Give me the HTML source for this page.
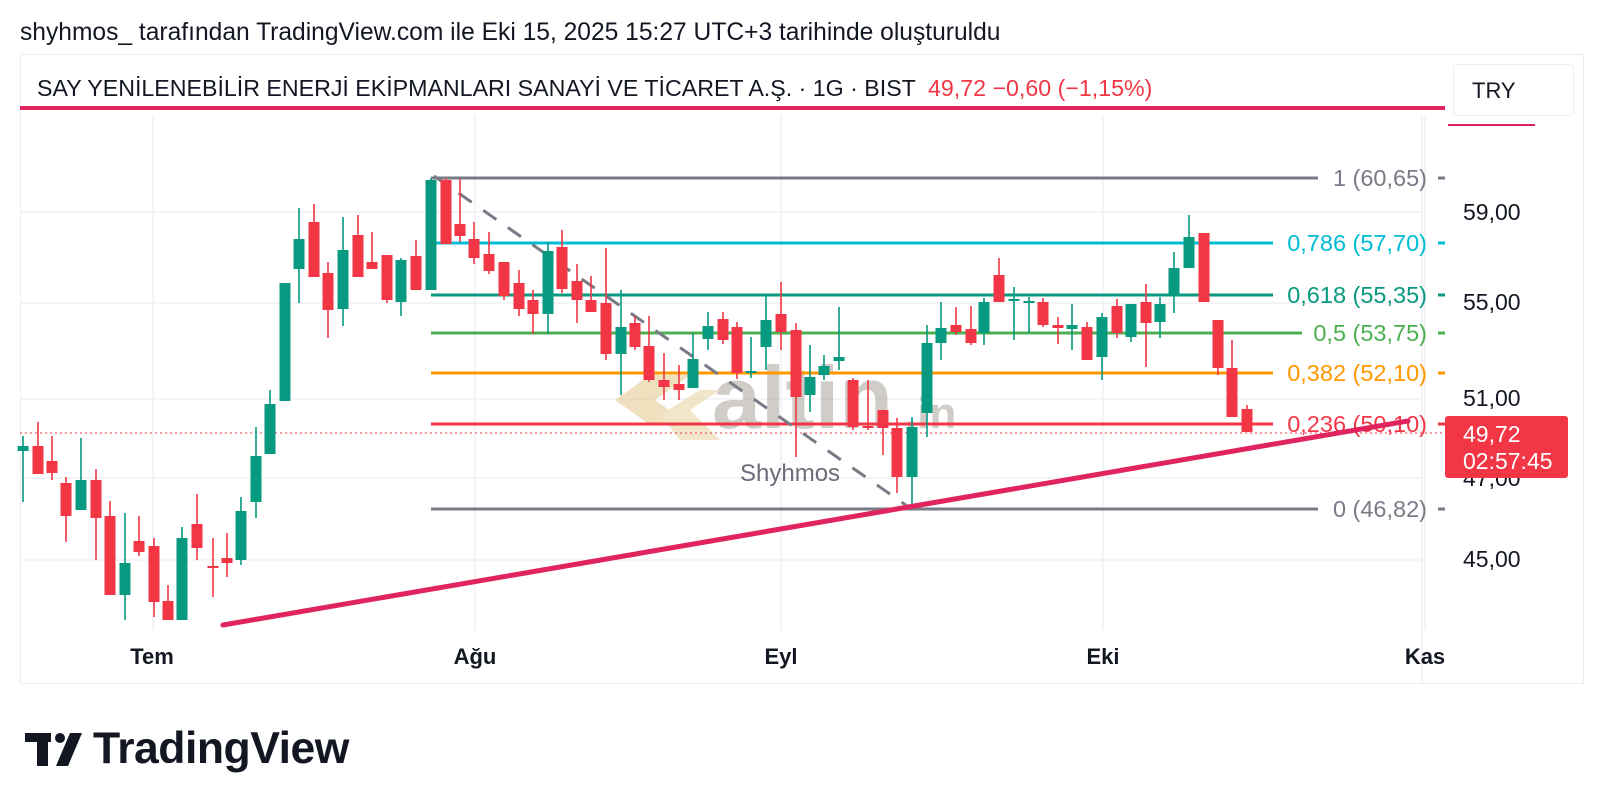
<!DOCTYPE html>
<html><head><meta charset="utf-8"><style>
html,body{margin:0;padding:0;background:#fff;}
svg{display:block;font-family:"Liberation Sans",Arial,sans-serif;}
</style></head><body>
<svg width="1600" height="808" viewBox="0 0 1600 808" xmlns="http://www.w3.org/2000/svg">
<text x="20" y="40" font-size="24.6" fill="#131722">shyhmos_ tarafından TradingView.com ile Eki 15, 2025 15:27 UTC+3 tarihinde oluşturuldu</text>
<rect x="20.5" y="54.5" width="1563" height="629" fill="#fff" stroke="#eceef2"/>
<g stroke="#f0f1f3" stroke-width="1.5">
<line x1="20" y1="212" x2="1422" y2="212"/><line x1="20" y1="303" x2="1422" y2="303"/>
<line x1="20" y1="399" x2="1422" y2="399"/><line x1="20" y1="478" x2="1422" y2="478"/>
<line x1="20" y1="560" x2="1422" y2="560"/>
<line x1="153" y1="115" x2="153" y2="630"/><line x1="475" y1="115" x2="475" y2="630"/>
<line x1="781" y1="115" x2="781" y2="630"/><line x1="1103" y1="115" x2="1103" y2="630"/>
<line x1="1425" y1="115" x2="1425" y2="630"/>
<line x1="1422" y1="115" x2="1422" y2="683"/>
</g>
<text x="37" y="96" font-size="23.2" fill="#131722">SAY YENİLENEBİLİR ENERJİ EKİPMANLARI SANAYİ VE TİCARET A.Ş. · 1G · BIST</text>
<text x="928" y="96" font-size="23.2" fill="#f23645">49,72  −0,60 (−1,15%)</text>
<rect x="20" y="106" width="1425" height="4" fill="#e0245e"/>
<rect x="1453.5" y="64.5" width="120" height="51" rx="4" fill="#fff" stroke="#eceef2"/>
<text x="1472" y="98" font-size="22" fill="#131722">TRY</text>
<rect x="1448" y="124" width="87" height="2" fill="#e0245e"/>
<g opacity="0.55">
<polygon points="615,400 650,375 690,375 655,400 690,425 650,425" fill="#e3c78a"/>
<polygon points="660,415 700,390 720,390 690,410 720,440 680,440" fill="#e8d3a0"/>
<text x="712" y="428" font-size="88" font-weight="bold" fill="#aaa39a">altin</text>
<text x="905" y="428" font-size="44" font-weight="bold" fill="#aaa39a">.in</text>
</g>
<text x="740" y="481" font-size="24" fill="#6a6d78">Shyhmos</text>
<g stroke-width="3">
<line x1="431" y1="178" x2="1318" y2="178" stroke="#787b86"/>
<line x1="431" y1="243" x2="1273" y2="243" stroke="#00bcd4"/>
<line x1="431" y1="295" x2="1273" y2="295" stroke="#089981"/>
<line x1="431" y1="333" x2="1302" y2="333" stroke="#4caf50"/>
<line x1="431" y1="373" x2="1273" y2="373" stroke="#ff9800"/>
<line x1="431" y1="424" x2="1273" y2="424" stroke="#f23645"/>
<line x1="431" y1="509" x2="1318" y2="509" stroke="#787b86"/>
</g>
<g font-size="23.5" text-anchor="end">
<text x="1427" y="186" fill="#787b86">1 (60,65)</text>
<text x="1427" y="251" fill="#00bcd4">0,786 (57,70)</text>
<text x="1427" y="303" fill="#089981">0,618 (55,35)</text>
<text x="1427" y="341" fill="#4caf50">0,5 (53,75)</text>
<text x="1427" y="381" fill="#ff9800">0,382 (52,10)</text>
<text x="1427" y="432" fill="#f23645">0,236 (50,10)</text>
<text x="1427" y="517" fill="#787b86">0 (46,82)</text>
</g>
<g stroke-width="3">
<line x1="1438" y1="178" x2="1445" y2="178" stroke="#787b86"/>
<line x1="1438" y1="243" x2="1445" y2="243" stroke="#00bcd4"/>
<line x1="1438" y1="295" x2="1445" y2="295" stroke="#089981"/>
<line x1="1438" y1="333" x2="1445" y2="333" stroke="#4caf50"/>
<line x1="1438" y1="373" x2="1445" y2="373" stroke="#ff9800"/>
<line x1="1438" y1="424" x2="1445" y2="424" stroke="#f23645"/>
<line x1="1438" y1="509" x2="1445" y2="509" stroke="#787b86"/>
</g>
<line x1="434" y1="176" x2="910" y2="508" stroke="#787b86" stroke-width="3" stroke-dasharray="16,14"/>
<line x1="20" y1="433" x2="1445" y2="433" stroke="#f23645" stroke-width="1" stroke-dasharray="2,3"/>
<path stroke="#089981" stroke-width="1.6" fill="none" d="M23 436V502M81 438V510M125 513V620M182 527V620M241 497V565M256 427V518M270 390V454M285 283V401M299 208V303M343 217V326M401 258V316M431 178V290M548 242V334M621 290V395M693 333V388M708 312V350M751 337V378M766 296V370M810 345V412M824 355V380M839 307V370M912 417V507M927 325V437M941 302V360M984 298V345M1014 287V340M1029 297V333M1072 304V350M1102 313V380M1131 304V342M1160 297V338M1174 252V313M1189 215V268"/>
<path fill="#089981" d="M17.5 446h11v5h-11zM75.5 480h11v30h-11zM119.5 563h11v32h-11zM176.5 538h11v82h-11zM235.5 511h11v49h-11zM250.5 456h11v46h-11zM264.5 404h11v50h-11zM279.5 283h11v118h-11zM293.5 239h11v30h-11zM337.5 250h11v59h-11zM395.5 260h11v42h-11zM425.5 180h11v110h-11zM542.5 251h11v63h-11zM615.5 327h11v27h-11zM687.5 359h11v29h-11zM702.5 326h11v13h-11zM745.5 371h11v2h-11zM760.5 320h11v27h-11zM804.5 377h11v18h-11zM818.5 366h11v9h-11zM833.5 357h11v4h-11zM906.5 427h11v50h-11zM921.5 343h11v70h-11zM935.5 328h11v15h-11zM978.5 302h11v31h-11zM1008.5 299h11v2h-11zM1023.5 301h11v2h-11zM1066.5 325h11v4h-11zM1096.5 317h11v40h-11zM1125.5 304h11v33h-11zM1154.5 304h11v18h-11zM1168.5 268h11v27h-11zM1183.5 237h11v31h-11z"/>
<path stroke="#f23645" stroke-width="1.6" fill="none" d="M38 422V474M52 436V480M66 477V542M96 469V560M110 501V595M139 516V556M154 538V617M168 585V620M197 494V560M213 538V597M227 533V577M314 204V277M328 262V338M358 215V277M372 232V269M387 255V303M416 240V290M446 178V244M460 179V242M474 222V264M489 232V274M504 262V300M519 270V316M533 290V334M562 230V293M577 264V323M591 276V312M606 248V360M635 316V350M649 316V382M664 353V400M679 365V400M723 312V344M737 322V379M781 282V350M796 323V457M853 378V430M868 380V430M883 410V455M897 418V493M956 307V335M971 306V345M999 258V302M1043 298V327M1058 317V344M1087 322V360M1117 299V338M1146 284V367M1204 233V302M1218 320V375M1232 340V417M1247 405V432"/>
<path fill="#f23645" d="M32.5 446h11v28h-11zM46.5 461h11v12h-11zM60.5 483h11v33h-11zM90.5 480h11v38h-11zM104.5 516h11v79h-11zM133.5 541h11v11h-11zM148.5 546h11v56h-11zM162.5 601h11v19h-11zM191.5 524h11v24h-11zM207.5 566h11v2h-11zM221.5 558h11v5h-11zM308.5 222h11v55h-11zM322.5 273h11v37h-11zM352.5 235h11v42h-11zM366.5 262h11v7h-11zM381.5 255h11v45h-11zM410.5 256h11v34h-11zM440.5 180h11v64h-11zM454.5 224h11v12h-11zM468.5 239h11v19h-11zM483.5 254h11v17h-11zM498.5 262h11v34h-11zM513.5 283h11v26h-11zM527.5 300h11v14h-11zM556.5 247h11v42h-11zM571.5 281h11v19h-11zM585.5 300h11v12h-11zM600.5 303h11v51h-11zM629.5 323h11v24h-11zM643.5 346h11v34h-11zM658.5 380h11v7h-11zM673.5 384h11v6h-11zM717.5 319h11v21h-11zM731.5 327h11v46h-11zM775.5 314h11v18h-11zM790.5 330h11v67h-11zM847.5 380h11v47h-11zM862.5 426h11v2h-11zM877.5 410h11v18h-11zM891.5 428h11v49h-11zM950.5 325h11v7h-11zM965.5 329h11v14h-11zM993.5 275h11v27h-11zM1037.5 302h11v23h-11zM1052.5 325h11v3h-11zM1081.5 327h11v33h-11zM1111.5 306h11v27h-11zM1140.5 302h11v21h-11zM1198.5 233h11v69h-11zM1212.5 320h11v48h-11zM1226.5 368h11v49h-11zM1241.5 409h11v23h-11z"/>
<line x1="223" y1="625" x2="1408" y2="421" stroke="#e0245e" stroke-width="5" stroke-linecap="round"/>
<g font-size="23" fill="#131722">
<text x="1463" y="220">59,00</text><text x="1463" y="310">55,00</text>
<text x="1463" y="406">51,00</text><text x="1463" y="486">47,00</text>
<text x="1463" y="567">45,00</text>
</g>
<rect x="1445" y="416" width="123" height="62" rx="3" fill="#f23645"/>
<text x="1463" y="442" font-size="23" fill="#fff">49,72</text>
<text x="1463" y="469" font-size="23" fill="#fff">02:57:45</text>
<g font-size="22" font-weight="bold" fill="#131722" text-anchor="middle">
<text x="152" y="664">Tem</text><text x="475" y="664">Ağu</text><text x="781" y="664">Eyl</text>
<text x="1103" y="664">Eki</text><text x="1425" y="664">Kas</text>
</g>
<g fill="#131722">
<rect x="25" y="733" width="26" height="9"/><rect x="37" y="733" width="11" height="33"/>
<circle cx="60" cy="738" r="5"/><polygon points="70,733 82,733 68,766 56,766"/>
<text x="93" y="763" font-size="44.5" font-weight="bold" letter-spacing="-0.5">TradingView</text>
</g>
</svg>
</body></html>
